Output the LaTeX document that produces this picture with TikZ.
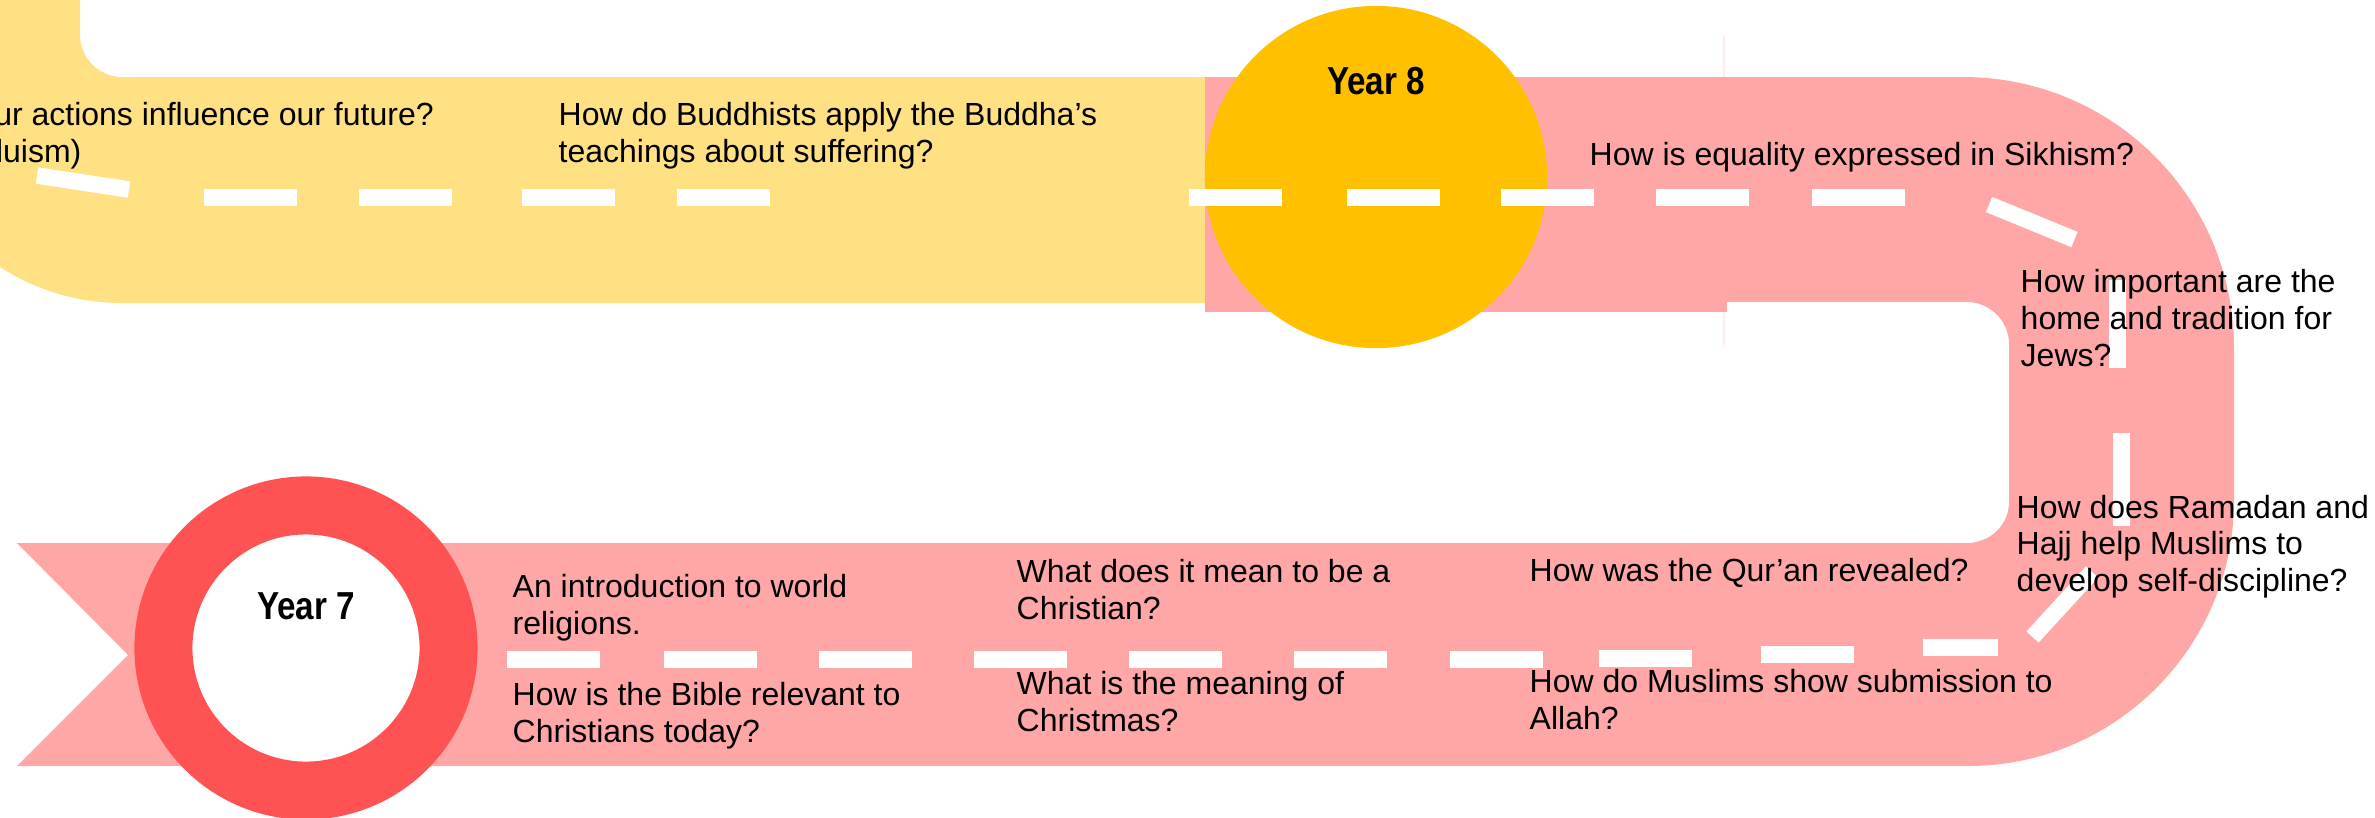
\documentclass[tikz,border=0pt]{standalone}
\usepackage{fontspec}
\setmainfont{Liberation Sans}
\usepackage{tikz}
\definecolor{roadpink}{HTML}{FFA6A6}
\definecolor{roadyellow}{HTML}{FFE083}
\definecolor{badgegold}{HTML}{FFC000}
\definecolor{badgered}{HTML}{FF5252}
\definecolor{seampink}{HTML}{FFEDED}
\begin{document}
\begin{tikzpicture}[x=0.01cm,y=-0.01cm,
  topic/.style={anchor=north west,align=left,inner sep=0pt,font=\fontsize{9.1pt}{10.4pt}\selectfont},
  yearlabel/.style={inner sep=0pt,font=\fontsize{11.1pt}{13pt}\selectfont\bfseries},
  lane/.style={draw=white,line width=0.165cm}]
\useasboundingbox (0,0) rectangle (2375,817);
\clip (0,0) rectangle (2375,817);
\draw[seampink, line width=0.02cm] (1724,35) -- (1724,345);
\fill[roadyellow] (-103,-10) -- (80,-10) -- (80,35) .. controls (80,58) and (99,77) .. (122,77) -- (1205,77) -- (1205,303) -- (122,303) .. controls (-1,303) and (-103,203) .. (-103,80) -- cycle;
\fill[roadpink] (1205,77) rectangle (1727,312);
\fill[roadpink] (1727,77) -- (1963,77) .. controls (2113,77) and (2234,198) .. (2234,348) -- (2234,500) .. controls (2234,647) and (2115,766) .. (1968,766) -- (17,766) -- (128,655) -- (17,543) -- (1967,543) .. controls (1990,543) and (2009,525) .. (2009,502) -- (2009,344) .. controls (2009,321) and (1990,302) .. (1967,302) -- (1727,302) -- cycle;

\node[circle, fill=badgegold, inner sep=0pt, minimum size=3.42cm] (yr8disc) at (1376,177) {};
\node[circle, draw=badgered, fill=white, line width=0.58cm, inner sep=0pt, minimum size=2.85cm] (yr7ring) at (306,648) {};
\node[yearlabel] (yr8) at ([yshift=0.955cm]yr8disc.center) {\scalebox{0.85}[1]{Year 8}};
\node[yearlabel] (yr7) at ([yshift=0.415cm]yr7ring.center) {\scalebox{0.85}[1]{Year 7}};

\foreach \a in {204,359,522,677,1189,1347,1501,1656,1812}
  \draw[lane] (\a,197.5) -- ++(93,0);
\foreach \a/\b in {507/659.5,664/659.5,819/659.5,974/659.5,1129/659.5,1294/659.7,1450/659.7,1599/658.3,1761/654.3}
  \draw[lane] (\a,\b) -- ++(93,0);
\draw[lane] (1923,647.3) -- (1998,647.3);
\draw[lane] (37,175.5) -- (129,189.5);
\draw[lane] (1989,204.5) -- (2074.5,239.5);
\draw[lane] (2032.5,637) -- (2092,572);
\draw[lane] (2117.5,280) -- (2117.5,368);
\draw[lane] (2121.5,433) -- (2121.5,526);

\node[topic] (hindu) at (-74,102) {Do our actions influence our future?\\(Hinduism)};
\node[topic] (buddha) at (558,102) {How do Buddhists apply the Buddha’s\\teachings about suffering?};
\node[topic] (sikh) at (1589,142) {How is equality expressed in Sikhism?};
\node[topic] (jews) at (2020,269) {How important are the\\home and tradition for\\Jews?};
\node[topic] (ramadan) at (2016,494.5) {How does Ramadan and\\Hajj help Muslims to\\develop self-discipline?};
\node[topic] (quran) at (1529,558) {How was the Qur’an revealed?};
\node[topic] (submit) at (1529,669) {How do Muslims show submission to\\Allah?};
\node[topic] (intro) at (512,574) {An introduction to world\\religions.};
\node[topic] (bible) at (512,682) {How is the Bible relevant to\\Christians today?};
\node[topic] (mean) at (1016,559) {What does it mean to be a\\Christian?};
\node[topic] (xmas) at (1016,671) {What is the meaning of\\Christmas?};
\end{tikzpicture}
\end{document}
